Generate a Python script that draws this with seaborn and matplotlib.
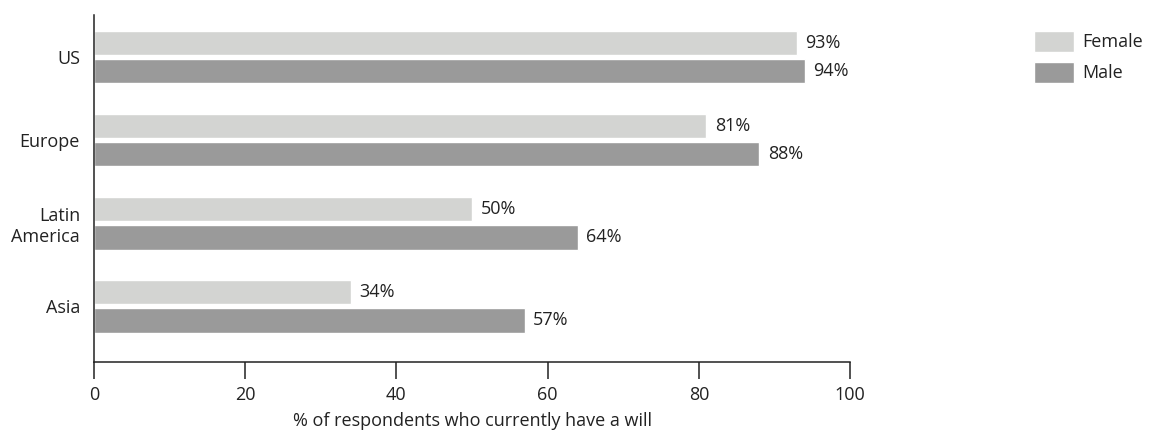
import matplotlib
matplotlib.use("Agg")
import matplotlib.pyplot as plt
import seaborn as sns
import pandas as pd

regions = ["US", "Europe", "Latin\nAmerica", "Asia"]
female = [93, 81, 50, 34]
male = [94, 88, 64, 57]
series_names = ["Female", "Male"]
x_ticks = [0, 20, 40, 60, 80, 100]

df = pd.DataFrame({
    "region": regions * 2,
    "value": female + male,
    "sex": [series_names[0]] * len(regions) + [series_names[1]] * len(regions),
})

sns.set_theme(style="white")
plt.rcParams["font.family"] = ["Open Sans", "DejaVu Sans"]

FS = 13
TXT = "#222222"

fig = plt.figure(figsize=(11.49, 4.34), dpi=100)
ax = fig.add_axes([0.0818, 0.166, 0.658, 0.80])

palette = {"Female": "#d3d4d2", "Male": "#9a9a9a"}
sns.barplot(data=df, y="region", x="value", hue="sex", order=regions,
            hue_order=series_names, palette=palette, orient="h",
            width=0.68, gap=0.14, saturation=1, ax=ax, legend=True)

for cont in ax.containers:
    ax.bar_label(cont, labels=[f"{v:.0f}%" for v in cont.datavalues],
                 padding=6, fontsize=FS, color=TXT)

ax.set_xlim(0, 100)
ax.set_ylim(3.67, -0.51)
ax.set_xticks(x_ticks)
ax.set_xticklabels([str(t) for t in x_ticks], fontsize=FS, color=TXT)
ax.tick_params(axis="x", bottom=True, direction="out", length=12, width=1.1,
               color=TXT, pad=5)
ax.tick_params(axis="y", left=False, length=0, pad=10, labelsize=FS, labelcolor=TXT)
for lbl in ax.get_yticklabels():
    lbl.set_horizontalalignment("right")
    lbl.set_multialignment("right")
ax.set_ylabel("")
ax.set_xlabel("% of respondents who currently have a will", fontsize=FS, color=TXT, labelpad=6)

for side in ["top", "right"]:
    ax.spines[side].set_visible(False)
for side in ["left", "bottom"]:
    ax.spines[side].set_color(TXT)
    ax.spines[side].set_linewidth(1.1)

handles, labels = ax.get_legend_handles_labels()
ax.get_legend().remove()
leg = fig.legend(handles, labels, loc="upper left",
                 bbox_to_anchor=(1034 / 1149, 1 - 31 / 434), frameon=False,
                 fontsize=FS, handlelength=2.2, handleheight=1.4, handletextpad=0.5,
                 labelspacing=0.55, borderaxespad=0, borderpad=0)
for t in leg.get_texts():
    t.set_color(TXT)

fig.savefig("out.png", dpi=100)
